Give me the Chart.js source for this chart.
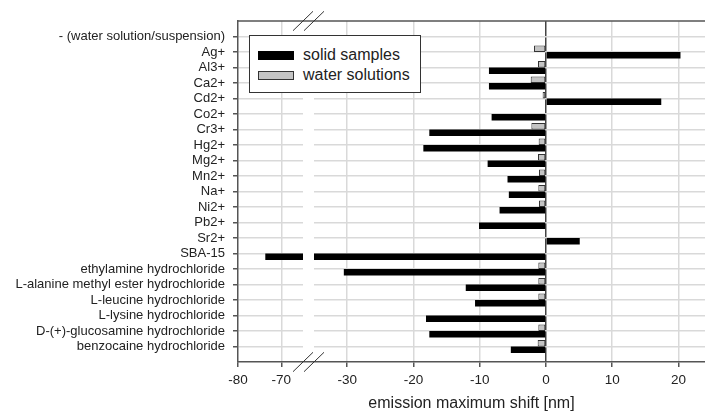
<!DOCTYPE html>
<html>
<head>
<meta charset="utf-8">
<script src="https://cdn.jsdelivr.net/npm/chart.js@4/dist/chart.umd.min.js"></script>
<style>
  body { margin: 0; background: #fff; }
  #wrap { position: relative; width: 705px; height: 412px; }
  #legend {
    position: absolute; left: 249px; top: 35px; width: 172px; height: 58px;
    box-sizing: border-box; border: 1.5px solid #333; background: #fff;
    font: 16px "Liberation Sans", Arial, sans-serif; color: #222;
  }
  #legend .item { position: absolute; left: 8px; height: 20px; display: flex; align-items: center; }
  #legend .sw { width: 36px; height: 9px; margin-right: 9px; box-sizing: border-box; }
</style>
</head>
<body>
<div id="wrap">
  <canvas id="graf" width="705" height="412"></canvas>
  <div id="legend"></div>
</div>
<script>
// --- dados ---
const categories = [
  "- (water solution/suspension)", "Ag+", "Al3+", "Ca2+", "Cd2+", "Co2+", "Cr3+",
  "Hg2+", "Mg2+", "Mn2+", "Na+", "Ni2+", "Pb2+", "Sr2+", "SBA-15",
  "ethylamine hydrochloride", "L-alanine methyl ester hydrochloride",
  "L-leucine hydrochloride", "L-lysine hydrochloride",
  "D-(+)-glucosamine hydrochloride", "benzocaine hydrochloride"
];
const solidSamples = [null, 20.3, -8.6, -8.6, 17.4, -8.2, -17.6, -18.5, -8.8, -5.8, -5.6,
  -7.0, -10.1, 5.1, -73.7, -30.5, -12.1, -10.7, -18.1, -17.6, -5.3];
const waterSolutions = [null, -1.8, -1.2, -2.3, -0.5, null, -2.2, -1.1, -1.2, -1.05, -1.15,
  -1.05, null, null, null, -1.15, -1.15, -1.15, null, -1.15, -1.25];
const xTicks = [-80, -70, -30, -20, -10, 0, 10, 20];

const FONT = "'Liberation Sans', Arial, sans-serif";
const TXT = "#222";
const AXIS = "#555";

/* escala linear com quebra (-65 .. -35 ficam escondidos) */
class BrokenScale extends Chart.LinearScale {
  buildTicks() {
    return xTicks.map((v) => ({ value: v }));
  }
  _brk() {
    const b = this.options.brk;
    const xLo = this.left + b.segPx;
    return { lo: b.lo, hi: b.hi, xLo, xHi: xLo + b.gapPx };
  }
  getPixelForValue(v) {
    const { lo, hi, xLo, xHi } = this._brk();
    if (v <= lo) return this.left + ((v - this.min) / (lo - this.min)) * (xLo - this.left);
    if (v >= hi) return xHi + ((v - hi) / (this.max - hi)) * (this.right - xHi);
    return xLo + ((v - lo) / (hi - lo)) * (xHi - xLo);
  }
  getValueForPixel(p) {
    const { lo, hi, xLo, xHi } = this._brk();
    if (p <= xLo) return this.min + ((p - this.left) / (xLo - this.left)) * (lo - this.min);
    if (p >= xHi) return hi + ((p - xHi) / (this.right - xHi)) * (this.max - hi);
    return lo + ((p - xLo) / (xHi - xLo)) * (hi - lo);
  }
}
BrokenScale.id = "broken";
BrokenScale.defaults = Chart.LinearScale.defaults;
Chart.register(BrokenScale);

/* gap branco, borda superior e marcas // */
const breakPlugin = {
  id: "breakMarks",
  afterDatasetsDraw(chart) {
    const { ctx, chartArea: a } = chart;
    const { xLo, xHi } = chart.scales.x._brk();
    ctx.save();
    ctx.fillStyle = "#fff";
    ctx.fillRect(xLo, a.top + 1, xHi - xLo, a.bottom - a.top - 2);
    ctx.restore();
  },
  afterDraw(chart) {
    const { ctx, chartArea: a } = chart;
    const { xLo, xHi } = chart.scales.x._brk();
    ctx.save();
    ctx.strokeStyle = AXIS;
    ctx.lineWidth = 1.5;
    ctx.beginPath();
    ctx.moveTo(a.left, a.top);
    ctx.lineTo(a.right, a.top);
    ctx.stroke();
    ctx.lineWidth = 1;
    ctx.strokeStyle = "#333";
    [a.top, a.bottom].forEach((y) => {
      [xLo, xHi].forEach((x) => {
        ctx.beginPath();
        ctx.moveTo(x - 10, y + 9.7);
        ctx.lineTo(x + 10, y - 9.7);
        ctx.stroke();
      });
    });
    ctx.restore();
  },
};

document.addEventListener("DOMContentLoaded", () => {
  // uma categoria vazia em cima e embaixo (espaço igual ao do gráfico original)
  const labels = ["", ...categories, ""];
  const pad = (arr) => [null, ...arr, null];
  const last = labels.length - 1;
  const isEdge = (c) => c.index === 0 || c.index === last;

  const chart = new Chart(document.getElementById("graf"), {
    type: "bar",
    data: {
      labels,
      datasets: [
        {
          label: "water solutions",
          data: pad(waterSolutions),
          backgroundColor: "#c4c4c4",
          borderColor: "#333",
          borderWidth: 1,
          borderSkipped: false,
        },
        {
          label: "solid samples",
          data: pad(solidSamples),
          backgroundColor: "#000",
          borderColor: "#000",
          borderWidth: 0,
        },
      ],
    },
    options: {
      indexAxis: "y",
      responsive: false,
      animation: false,
      devicePixelRatio: 1,
      layout: { padding: { top: 21, right: 0, left: 0, bottom: 0 } },
      datasets: { bar: { categoryPercentage: 0.84, barPercentage: 1 } },
      plugins: { legend: { display: false }, tooltip: { enabled: false } },
      scales: {
        x: {
          type: "broken",
          min: -80,
          max: 24,
          brk: { lo: -65, hi: -35, segPx: 65, gapPx: 11 },
          afterFit: (s) => { s.height = 50; },
          grid: {
            color: (c) => (c.tick && c.tick.value === 0 ? "#444" : c.tick && c.tick.value === -80 ? "transparent" : "#d9d9d9"),
            lineWidth: 1.5,
            tickColor: AXIS,
            tickLength: 5,
          },
          border: { color: AXIS, width: 1.5 },
          ticks: {
            autoSkip: false,
            maxRotation: 0,
            color: TXT,
            padding: 5,
            font: { family: FONT, size: 13.5 },
          },
          title: {
            display: true,
            text: "emission maximum shift [nm]",
            color: TXT,
            padding: { top: 0, bottom: 0 },
            font: { family: FONT, size: 16, lineHeight: 1 },
          },
        },
        y: {
          offset: false,
          afterFit: (s) => { s.width = 238; },
          grid: {
            offset: false,
            color: (c) => (isEdge(c) ? "transparent" : "#d9d9d9"),
            lineWidth: 1.5,
            tickColor: (c) => (isEdge(c) ? "transparent" : AXIS),
            tickLength: 5,
          },
          border: { color: AXIS, width: 1.5 },
          ticks: {
            autoSkip: false,
            color: TXT,
            padding: 8,
            font: { family: FONT, size: 13 },
          },
        },
      },
    },
    plugins: [breakPlugin],
  });

  // legenda em html (ordem invertida: sólidos primeiro)
  const leg = document.getElementById("legend");
  chart.data.datasets.slice().reverse().forEach((ds, i) => {
    const it = document.createElement("div");
    it.className = "item";
    it.style.top = 9 + i * 20 + "px";
    const sw = document.createElement("span");
    sw.className = "sw";
    sw.style.background = ds.backgroundColor;
    sw.style.border = "1px solid " + (ds.borderWidth ? ds.borderColor : "#000");
    const tx = document.createElement("span");
    tx.textContent = ds.label;
    it.append(sw, tx);
    leg.appendChild(it);
  });
});
</script>
</body>
</html>
